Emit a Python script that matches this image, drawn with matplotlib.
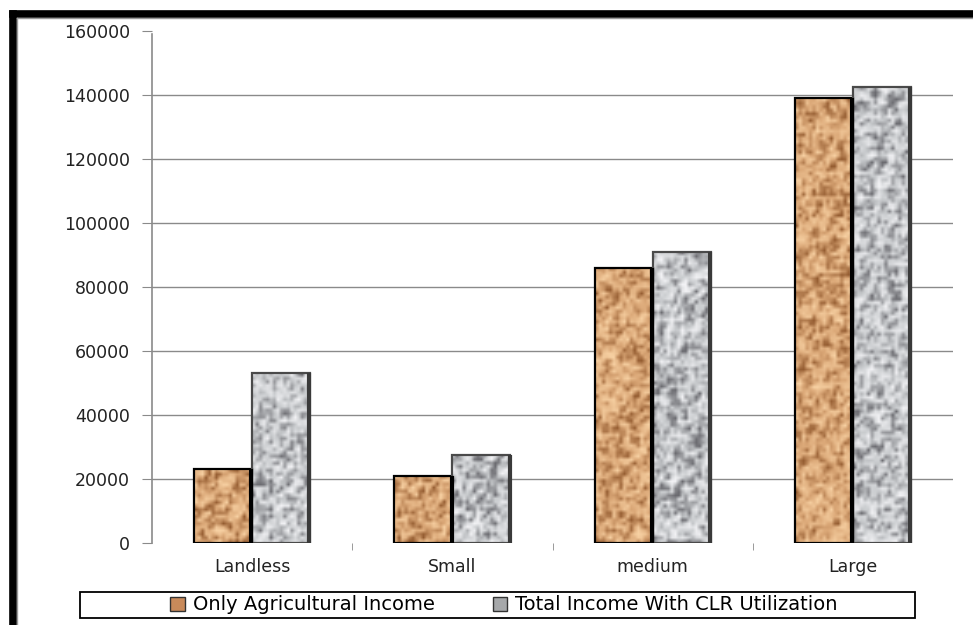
import numpy as np
import matplotlib.pyplot as plt
from matplotlib.patches import Rectangle
from matplotlib.lines import Line2D

categories = ['Landless', 'Small', 'medium', 'Large']
only_agri = [23000, 21000, 86000, 139000]
total_clr = [53000, 27500, 91000, 142500]
yticks = [0, 20000, 40000, 60000, 80000, 100000, 120000, 140000, 160000]

W, H = 973, 625
fig = plt.figure(figsize=(W / 100, H / 100), dpi=100)
ax = fig.add_axes([152 / W, 1 - 543 / H, (953 - 152) / W, (543 - 31) / H])

rng = np.random.default_rng(7)


def granite(base, dark, light, shape):
    # speckled stone-like texture for the bar fill
    n = rng.random(shape)
    n = (n * 2 + np.roll(n, 1, 0) + np.roll(n, 1, 1)) / 4
    n = (n - n.min()) / (n.max() - n.min())
    t = n[..., None]
    base, dark, light = np.array(base), np.array(dark), np.array(light)
    img = np.where(t < 0.5,
                   base + (dark - base) * ((0.5 - t) * 2.4).clip(0, 1),
                   base + (light - base) * ((t - 0.5) * 2.4).clip(0, 1))
    return img.clip(0, 1)


brown = ((0.86, 0.66, 0.47), (0.58, 0.36, 0.19), (0.97, 0.82, 0.64))
grey = ((0.79, 0.80, 0.81), (0.42, 0.42, 0.44), (0.95, 0.95, 0.96))

x = np.arange(len(categories))
w = 0.29
px_per_val = 512 / 160000


def textured_bar(xc, h, cols, edge, shadow):
    left = xc - w / 2
    rect = Rectangle((left, 0), w, h, facecolor='none', edgecolor=edge,
                     linewidth=1.6, zorder=4)
    ax.add_patch(rect)
    rows = max(4, int(h * px_per_val / 3.5))
    img = granite(*cols, shape=(rows, 17))
    im = ax.imshow(img, extent=(left, left + w, 0, h), aspect='auto',
                   interpolation='bilinear', zorder=3)
    im.set_clip_path(rect)
    # darker right side of the bar
    ax.plot([left + w - 0.004, left + w - 0.004], [0, h], color=shadow,
            linewidth=3, zorder=5, solid_capstyle='butt')


for i in range(len(categories)):
    textured_bar(x[i] - w / 2, only_agri[i], brown, 'black', 'black')
    textured_bar(x[i] + w / 2, total_clr[i], grey, '#4a4a4a', '#3a3a3a')

ax.set_xlim(-0.5, len(categories) - 0.5)
ax.set_ylim(0, 160000)
ax.set_yticks(yticks)
ax.set_yticklabels([str(v) for v in yticks])
ax.set_xticks(x)
ax.set_xticklabels(categories)
ax.set_xticks(x[:-1] + 0.5, minor=True)
ax.yaxis.grid(True, color='#8a8a8a', linewidth=1)
gl = ax.get_ygridlines()
gl[0].set_visible(False)
gl[-1].set_visible(False)
ax.set_axisbelow(True)
for s in ['top', 'right', 'bottom']:
    ax.spines[s].set_visible(False)
ax.spines['left'].set_color('#8a8a8a')
ax.spines['left'].set_linewidth(1.2)
ax.spines['left'].set_bounds(0, 159000)
ax.tick_params(axis='y', length=7, color='#8a8a8a', pad=9, labelsize=12.5,
               labelcolor='#222222')
ax.tick_params(axis='x', which='major', length=0, pad=11, labelsize=12.5,
               labelcolor='#222222')
ax.tick_params(axis='x', which='minor', length=5, color='#8a8a8a')

# legend with its own box
fig.add_artist(Rectangle((80 / W, 1 - 618 / H), (915 - 80) / W, 26 / H,
                         transform=fig.transFigure, facecolor='white',
                         edgecolor='black', linewidth=1.3))
handles = [Rectangle((0, 0), 1, 1, facecolor='#c98a5a', edgecolor='#333333'),
           Rectangle((0, 0), 1, 1, facecolor='#a6a8aa', edgecolor='#333333')]
fig.legend(handles, ['Only Agricultural Income', 'Total Income With CLR Utilization'],
           loc='center', bbox_to_anchor=(504 / W, 1 - 605 / H), ncol=2,
           frameon=False, fontsize=14, handlelength=0.75, handleheight=0.75,
           handletextpad=0.4, columnspacing=3.0)

# thick frame along the top and left
fig.add_artist(Line2D([12.5 / W, 1], [1 - 13.5 / H, 1 - 13.5 / H],
                      transform=fig.transFigure, color='black', linewidth=5.5))
fig.add_artist(Line2D([12.5 / W, 12.5 / W], [0, 1 - 13.5 / H],
                      transform=fig.transFigure, color='black', linewidth=5.5))
fig.add_artist(Line2D([16.5 / W, 1], [1 - 17.5 / H, 1 - 17.5 / H],
                      transform=fig.transFigure, color='#999999', linewidth=1))
fig.add_artist(Line2D([16.5 / W, 16.5 / W], [0, 1 - 17.5 / H],
                      transform=fig.transFigure, color='#999999', linewidth=1))

fig.savefig('out.png', dpi=100)
